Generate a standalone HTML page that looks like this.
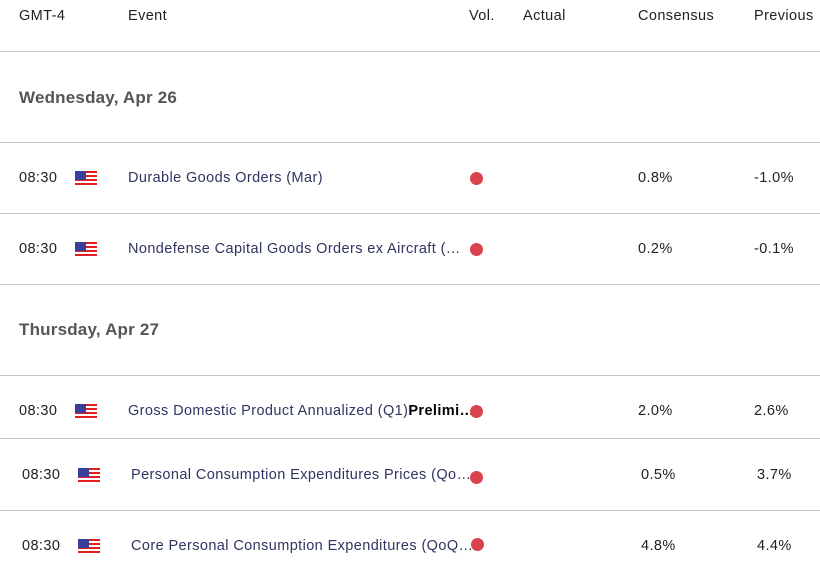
<!DOCTYPE html>
<html><head><style>
body{margin:0;width:820px;height:577px;background:#fff;font-family:"Liberation Sans",sans-serif;position:relative;overflow:hidden;}
.t{position:absolute;white-space:nowrap;font-size:14.5px;line-height:16px;letter-spacing:0.4px;}
.h{color:#222;}
.l{position:absolute;left:0;width:820px;height:1px;background:#c4c8cc;}
.d{position:absolute;font-size:17px;font-weight:bold;color:#555;letter-spacing:0.2px;}
.ev{color:#2e3560;}
.dot{position:absolute;width:13px;height:13px;border-radius:50%;background:#d9434e;}
.flag{position:absolute;width:22px;height:16px;background:repeating-linear-gradient(#e02020 0 2px,#fff 2px 4px);}
.flag::before{content:"";position:absolute;left:0;top:0;width:11px;height:9px;background:#3a3f9a;}
</style></head><body>
<div class="t h" style="left:19px;top:8px">GMT-4</div>
<div class="t h" style="left:128px;top:8px">Event</div>
<div class="t h" style="left:469px;top:8px">Vol.</div>
<div class="t h" style="left:523px;top:8px">Actual</div>
<div class="t h" style="left:638px;top:8px">Consensus</div>
<div class="t h" style="left:754px;top:8px">Previous</div>
<div class="l" style="top:51px"></div>
<div class="d" style="left:19px;top:88px">Wednesday, Apr 26</div>
<div class="l" style="top:142px"></div>
<div class="t h" style="left:19px;top:170px">08:30</div><div class="flag" style="left:75px;top:171px"></div>
<div class="t ev" style="left:128px;top:170px">Durable Goods Orders (Mar)</div>
<div class="dot" style="left:470px;top:172px"></div>
<div class="t h" style="left:638px;top:170px">0.8%</div><div class="t h" style="left:754px;top:170px">-1.0%</div>
<div class="l" style="top:213px"></div>
<div class="t h" style="left:19px;top:241px">08:30</div><div class="flag" style="left:75px;top:242px"></div>
<div class="t ev" style="left:128px;top:241px">Nondefense Capital Goods Orders ex Aircraft (…</div>
<div class="dot" style="left:470px;top:243px"></div>
<div class="t h" style="left:638px;top:241px">0.2%</div><div class="t h" style="left:754px;top:241px">-0.1%</div>
<div class="l" style="top:284px"></div>
<div class="d" style="left:19px;top:320px">Thursday, Apr 27</div>
<div class="l" style="top:375px"></div>
<div class="t h" style="left:19px;top:403px">08:30</div><div class="flag" style="left:75px;top:404px"></div>
<div class="t ev" style="left:128px;top:403px">Gross Domestic Product Annualized (Q1)<b style="color:#000">Prelimi…</b></div>
<div class="dot" style="left:470px;top:405px"></div>
<div class="t h" style="left:638px;top:403px">2.0%</div><div class="t h" style="left:754px;top:403px">2.6%</div>
<div class="l" style="top:438px"></div>
<div class="t h" style="left:22px;top:467px">08:30</div><div class="flag" style="left:78px;top:468px"></div>
<div class="t ev" style="left:131px;top:467px">Personal Consumption Expenditures Prices (Qo…</div>
<div class="dot" style="left:470px;top:471px"></div>
<div class="t h" style="left:641px;top:467px">0.5%</div><div class="t h" style="left:757px;top:467px">3.7%</div>
<div class="l" style="top:510px"></div>
<div class="t h" style="left:22px;top:538px">08:30</div><div class="flag" style="left:78px;top:539px"></div>
<div class="t ev" style="left:131px;top:538px">Core Personal Consumption Expenditures (QoQ…</div>
<div class="dot" style="left:471px;top:538px"></div>
<div class="t h" style="left:641px;top:538px">4.8%</div><div class="t h" style="left:757px;top:538px">4.4%</div>
</body></html>
